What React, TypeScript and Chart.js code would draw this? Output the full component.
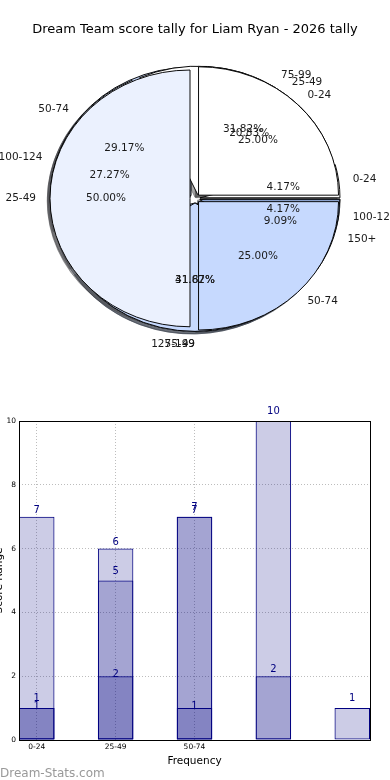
import React, { useEffect, useRef } from 'react';
import { Chart, registerables } from 'chart.js';

Chart.register(...registerables);

// ---------- data ----------
const TITLE = 'Dream Team score tally for Liam Ryan - 2026 tally';

const PIE_B_LABELS = ['0-24', '25-49', '50-74', '75-99', '100-124'];
const PIE_B_VALUES = [1, 5, 7, 10, 1];

const PIE_C_LABELS = ['75-99', '100-124', '125-149', '150+'];
const PIE_C_VALUES = [7, 6, 7, 2];

const PIE_D_LABELS = ['0-24', '25-49', '50-74'];
const PIE_D_VALUES = [1, 2, 1];

const BAR_TICK_LABELS = ['0-24', '25-49', '50-74'];
const X_TITLE = 'Frequency';
const Y_TITLE = 'Score Range';
const WATERMARK = 'Dream-Stats.com';
const Y_MIN = 0;
const Y_MAX = 10;
const Y_STEP = 2;

// ---------- style ----------
const FONT = 'DejaVu Sans';
const PIE_COLORS = ['#ffffff', '#ebf1fe', '#c6d9fe', '#a9c5fa', '#8fb3f5'];
const SY = 0.917; // vertical squash of the pie (axes aspect)
const EXPLODE = 5;
const PIE_RADIUS = 140;
const BAR_FILL = 'rgba(0,0,128,0.2)';
const BAR_EDGE = '#000080';
const BAR_LABEL_OFFSETS = [9.5, 6.5, 1.5];

const pieSeries = [
  { labels: PIE_B_LABELS, values: PIE_B_VALUES, order: 2 },
  { labels: PIE_C_LABELS, values: PIE_C_VALUES, order: 1 },
  { labels: PIE_D_LABELS, values: PIE_D_VALUES, order: 0 },
];

function shadowOf(hex: string) {
  const h = hex.replace('#', '');
  const r = parseInt(h.slice(0, 2), 16);
  const g = parseInt(h.slice(2, 4), 16);
  const b = parseInt(h.slice(4, 6), 16);
  return `rgba(${Math.round(r * 0.3)},${Math.round(g * 0.3)},${Math.round(b * 0.3)},0.5)`;
}

const fullPiePlugin = {
  id: 'fullPie',
  afterDatasetsUpdate(chart: any) {
    const R = chart.getDatasetMeta(0).controller.outerRadius;
    chart.data.datasets.forEach((_: any, i: number) => {
      const meta = chart.getDatasetMeta(i);
      meta.data.forEach((arc: any) => {
        const mid = (arc.startAngle + arc.endAngle) / 2;
        arc.innerRadius = 0;
        arc.outerRadius = R;
        arc.x += Math.cos(mid) * EXPLODE;
        arc.y += Math.sin(mid) * EXPLODE;
      });
    });
  },
  beforeDatasetsDraw(chart: any) {
    const ctx = chart.ctx;
    const { left, right, top, bottom } = chart.chartArea;
    const cx = (left + right) / 2;
    const cy = (top + bottom) / 2;
    ctx.save();
    ctx.translate(cx, cy);
    ctx.scale(1, SY);
    ctx.translate(-cx, -cy);
    // shadows (below every wedge)
    chart.data.datasets.forEach((ds: any, i: number) => {
      const meta = chart.getDatasetMeta(i);
      meta.data.forEach((arc: any, j: number) => {
        const R = arc.outerRadius;
        const sx = arc.x - 0.02 * R;
        const sy = arc.y + 0.02 * R;
        const col = shadowOf(ds.backgroundColor[j]);
        ctx.beginPath();
        ctx.moveTo(sx, sy);
        ctx.arc(sx, sy, R, arc.startAngle, arc.endAngle);
        ctx.closePath();
        ctx.fillStyle = col;
        ctx.fill();
        ctx.lineWidth = 1;
        ctx.strokeStyle = col;
        ctx.stroke();
      });
    });
  },
  afterDatasetsDraw(chart: any) {
    const ctx = chart.ctx;
    ctx.restore();
    const { left, right, top, bottom } = chart.chartArea;
    const cx = (left + right) / 2;
    const cy = (top + bottom) / 2;
    ctx.save();
    ctx.font = `10.5px "${FONT}"`;
    ctx.fillStyle = '#1a1a1a';
    ctx.textBaseline = 'middle';
    pieSeries.forEach((s, di) => {
      const meta = chart.getDatasetMeta(di);
      const total = s.values.reduce((a, b) => a + b, 0);
      const n = s.values.length;
      meta.data.forEach((arc: any, j: number) => {
        const k = n - 1 - j;
        const mid = (arc.startAngle + arc.endAngle) / 2;
        const c = Math.cos(mid);
        const sn = Math.sin(mid);
        const R = arc.outerRadius;
        const dl = 1.1 * R + EXPLODE;
        ctx.textAlign = c > 1e-9 ? 'left' : 'right';
        ctx.fillText(s.labels[k], cx + dl * c, cy + dl * sn * SY);
        const dp = 0.6 * R + EXPLODE;
        ctx.textAlign = 'center';
        ctx.fillText(((s.values[k] / total) * 100).toFixed(2) + '%', cx + dp * c, cy + dp * sn * SY);
      });
    });
    ctx.restore();
  },
};

const framePlugin = {
  id: 'frame',
  afterDatasetsDraw(chart: any) {
    const ctx = chart.ctx;
    const { left, right, top, bottom } = chart.chartArea;
    ctx.save();
    ctx.strokeStyle = '#000';
    ctx.lineWidth = 1;
    ctx.strokeRect(Math.round(left) + 0.5, Math.round(top) + 0.5, Math.round(right - left), Math.round(bottom - top));
    ctx.restore();
  },
};

const barLabelPlugin = {
  id: 'barLabels',
  afterDraw(chart: any) {
    const ctx = chart.ctx;
    ctx.save();
    ctx.font = `10px "${FONT}"`;
    ctx.fillStyle = BAR_EDGE;
    ctx.textAlign = 'center';
    ctx.textBaseline = 'middle';
    chart.data.datasets.forEach((ds: any, i: number) => {
      const meta = chart.getDatasetMeta(i);
      meta.data.forEach((bar: any, j: number) => {
        ctx.fillText(String(ds.data[j].y), bar.x, bar.y - BAR_LABEL_OFFSETS[i]);
      });
    });
    ctx.restore();
  },
};

export default function App() {
  const pieRef = useRef<HTMLCanvasElement>(null);
  const barRef = useRef<HTMLCanvasElement>(null);

  useEffect(() => {
    Chart.defaults.font.family = FONT;
    const pie = new Chart(pieRef.current as HTMLCanvasElement, {
      type: 'pie',
      data: {
        labels: PIE_B_LABELS,
        datasets: pieSeries.map((s) => ({
          data: [...s.values].reverse(),
          backgroundColor: s.values.map((_, i) => PIE_COLORS[i % PIE_COLORS.length]).reverse(),
          borderColor: '#000',
          borderWidth: 1,
          borderJoinStyle: 'miter',
          hoverOffset: 0,
          order: s.order,
        })),
      } as any,
      options: {
        animation: false,
        responsive: false,
        events: [],
        rotation: 90,
        radius: PIE_RADIUS,
        layout: { padding: { left: 20, right: 20, top: 0, bottom: 43.2 } },
        plugins: {
          legend: { display: false },
          tooltip: { enabled: false },
          title: {
            display: true,
            text: TITLE,
            color: '#000',
            font: { family: FONT, size: 13, weight: 'normal' },
            padding: { top: 22, bottom: 2.4 },
          },
        },
      } as any,
      plugins: [fullPiePlugin],
    });

    const barSeries = [PIE_B_VALUES, PIE_C_VALUES, PIE_D_VALUES];
    const bar = new Chart(barRef.current as HTMLCanvasElement, {
      type: 'bar',
      data: {
        datasets: barSeries.map((vals) => ({
          data: vals.map((v, i) => ({ x: i, y: v })),
          backgroundColor: BAR_FILL,
          borderColor: BAR_EDGE,
          borderWidth: 1,
          borderSkipped: false,
          grouped: false,
          barPercentage: 0.45,
          categoryPercentage: 1,
        })),
      } as any,
      options: {
        animation: false,
        responsive: false,
        events: [],
        layout: { padding: { left: 0, right: 20, top: 21, bottom: 0 } },
        plugins: { legend: { display: false }, tooltip: { enabled: false } },
        scales: {
          x: {
            type: 'linear',
            offset: false,
            min: -0.225,
            max: 4.225,
            afterBuildTicks: (s: any) => {
              s.ticks = BAR_TICK_LABELS.map((_, i) => ({ value: i }));
            },
            ticks: {
              callback: (v: any) => BAR_TICK_LABELS[v] ?? '',
              color: '#000',
              font: { family: FONT, size: 7.5 },
              padding: 3,
              maxRotation: 0,
              autoSkip: false,
            },
            grid: { color: '#bdbdbd', drawTicks: false, offset: false },
            border: { display: false, dash: [1, 2] },
            title: {
              display: true,
              text: X_TITLE,
              color: '#000',
              font: { family: FONT, size: 10.5 },
              padding: { top: 0, bottom: 12.7 },
            },
            afterFit: (s: any) => {
              s.height = 40;
              s.paddingLeft = 0;
              s.paddingRight = 0;
            },
          },
          y: {
            min: Y_MIN,
            max: Y_MAX,
            ticks: {
              stepSize: Y_STEP,
              color: '#000',
              font: { family: FONT, size: 7.5 },
              padding: 3,
            },
            grid: { color: '#bdbdbd', drawTicks: false },
            border: { display: false, dash: [1, 2] },
            title: {
              display: true,
              text: Y_TITLE,
              color: '#000',
              font: { family: FONT, size: 10.5 },
              padding: { top: 2.6, bottom: 0 },
            },
            afterFit: (s: any) => {
              s.width = 29;
              s.paddingTop = 0;
              s.paddingBottom = 0;
            },
          },
        },
      } as any,
      plugins: [framePlugin, barLabelPlugin],
    });

    return () => {
      pie.destroy();
      bar.destroy();
    };
  }, []);

  return (
    <div
      style={{
        position: 'absolute',
        left: 0,
        top: 0,
        width: 390,
        height: 780,
        overflow: 'hidden',
        background: '#fff',
      }}
    >
      <canvas
        ref={pieRef}
        width={390}
        height={400}
        style={{ position: 'absolute', left: 0, top: 0, width: 390, height: 400, display: 'block' }}
      />
      <canvas
        ref={barRef}
        width={400}
        height={380}
        style={{ position: 'absolute', left: -10, top: 400, width: 400, height: 380, display: 'block' }}
      />
      <div
        style={{
          position: 'absolute',
          left: 0,
          top: 766,
          fontFamily: FONT,
          fontSize: 12,
          lineHeight: '14px',
          color: '#999',
          whiteSpace: 'nowrap',
        }}
      >
        {WATERMARK}
      </div>
    </div>
  );
}
